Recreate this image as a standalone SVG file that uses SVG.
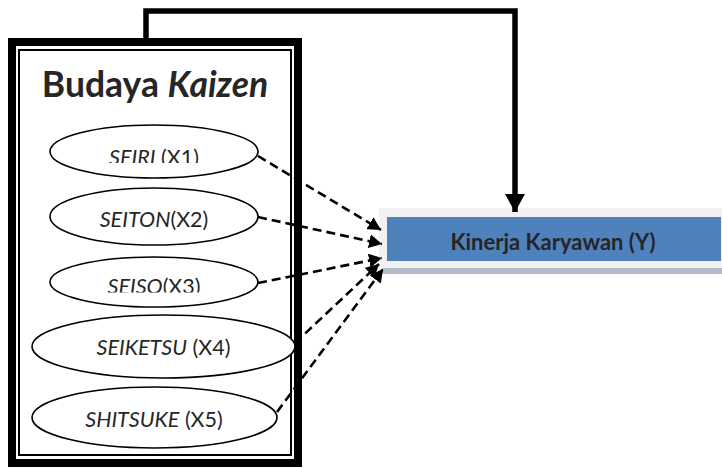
<svg xmlns="http://www.w3.org/2000/svg" width="722" height="468" viewBox="0 0 722 468">
  <style>
    .frame-outer { fill: none; stroke: #000; stroke-width: 8; }
    .frame-inner { fill: none; stroke: #000; stroke-width: 2; }
    .oval { fill: #fff; stroke: #000; stroke-width: 1.6; }
    .lbl { font-family: Lato, "Liberation Sans", sans-serif; font-size: 21.5px; fill: #262626; text-anchor: middle; }
    .it { font-style: italic; }
    .title { font-family: Lato, "Liberation Sans", sans-serif; font-size: 35.5px; font-weight: bold; fill: #262626; text-anchor: middle; }
    .ylbl { font-family: Lato, "Liberation Sans", sans-serif; font-size: 22px; font-weight: bold; fill: #262626; text-anchor: middle; }
    .dash { fill: none; stroke: #000; stroke-width: 2.6; stroke-dasharray: 9 5; marker-end: url(#tri); }
    .solid { fill: none; stroke: #000; stroke-width: 5.5; marker-end: url(#big); }
  </style>
  <defs>
    <marker id="tri" markerUnits="userSpaceOnUse" markerWidth="14" markerHeight="14" refX="13" refY="7" orient="auto">
      <path d="M0,0 L13,7 L0,14 z" fill="#000"/>
    </marker>
    <marker id="big" markerUnits="userSpaceOnUse" markerWidth="20" markerHeight="20" refX="18" refY="10" orient="auto">
      <path d="M0,0 L18,10 L0,20 z" fill="#000"/>
    </marker>
    <clipPath id="clip1"><rect x="50" y="120" width="210" height="43"/></clipPath>
    <clipPath id="clip3"><rect x="50" y="255" width="210" height="37.5"/></clipPath>
  </defs>

  <!-- Budaya Kaizen frame -->
  <g id="budaya-kaizen">
    <rect class="frame-outer" x="12" y="42" width="286" height="421"/>
    <rect class="frame-inner" x="19" y="50" width="272" height="405"/>
    <text class="title" x="155" y="97">Budaya <tspan class="it">Kaizen</tspan></text>
  </g>

  <g id="x1">
    <ellipse class="oval" cx="154" cy="151.5" rx="104" ry="26.5"/>
    <text class="lbl" x="154" y="164.5" clip-path="url(#clip1)"><tspan class="it">SEIRI</tspan> (X1)</text>
  </g>
  <g id="x2">
    <ellipse class="oval" cx="154" cy="216.5" rx="104" ry="28.5"/>
    <text class="lbl" x="154" y="227"><tspan class="it">SEITON</tspan>(X2)</text>
  </g>
  <g id="x3">
    <ellipse class="oval" cx="154" cy="282" rx="104" ry="25"/>
    <text class="lbl" x="154" y="294" clip-path="url(#clip3)"><tspan class="it">SEISO</tspan>(X3)</text>
  </g>
  <g id="x4">
    <ellipse class="oval" cx="163.5" cy="346.5" rx="131.5" ry="31.5"/>
    <text class="lbl" x="163.5" y="355"><tspan class="it">SEIKETSU</tspan> (X4)</text>
  </g>
  <g id="x5">
    <ellipse class="oval" cx="154.5" cy="417.5" rx="122.5" ry="30.5"/>
    <text class="lbl" x="154" y="427"><tspan class="it">SHITSUKE</tspan> (X5)</text>
  </g>

  <!-- Kinerja Karyawan box -->
  <g id="y">
    <rect x="379" y="208" width="343" height="61" fill="#F2F2F2"/>
    <rect x="382" y="268" width="340" height="6" fill="#B3BBC8"/>
    <rect x="387" y="217" width="334" height="44" fill="#4F81BD"/>
    <text class="ylbl" x="553" y="250">Kinerja Karyawan (Y)</text>
  </g>

  <!-- connectors -->
  <g id="connectors">
    <polyline class="solid" points="146,38 146,11 515,11 515,212"/>
    <line class="dash" x1="258" y1="156" x2="381" y2="230"/>
    <line class="dash" x1="258" y1="217" x2="382" y2="244"/>
    <line class="dash" x1="258" y1="283" x2="382" y2="258"/>
    <line class="dash" x1="295" y1="343" x2="379" y2="264"/>
    <line class="dash" x1="277" y1="412" x2="383" y2="269"/>
  </g>
</svg>
